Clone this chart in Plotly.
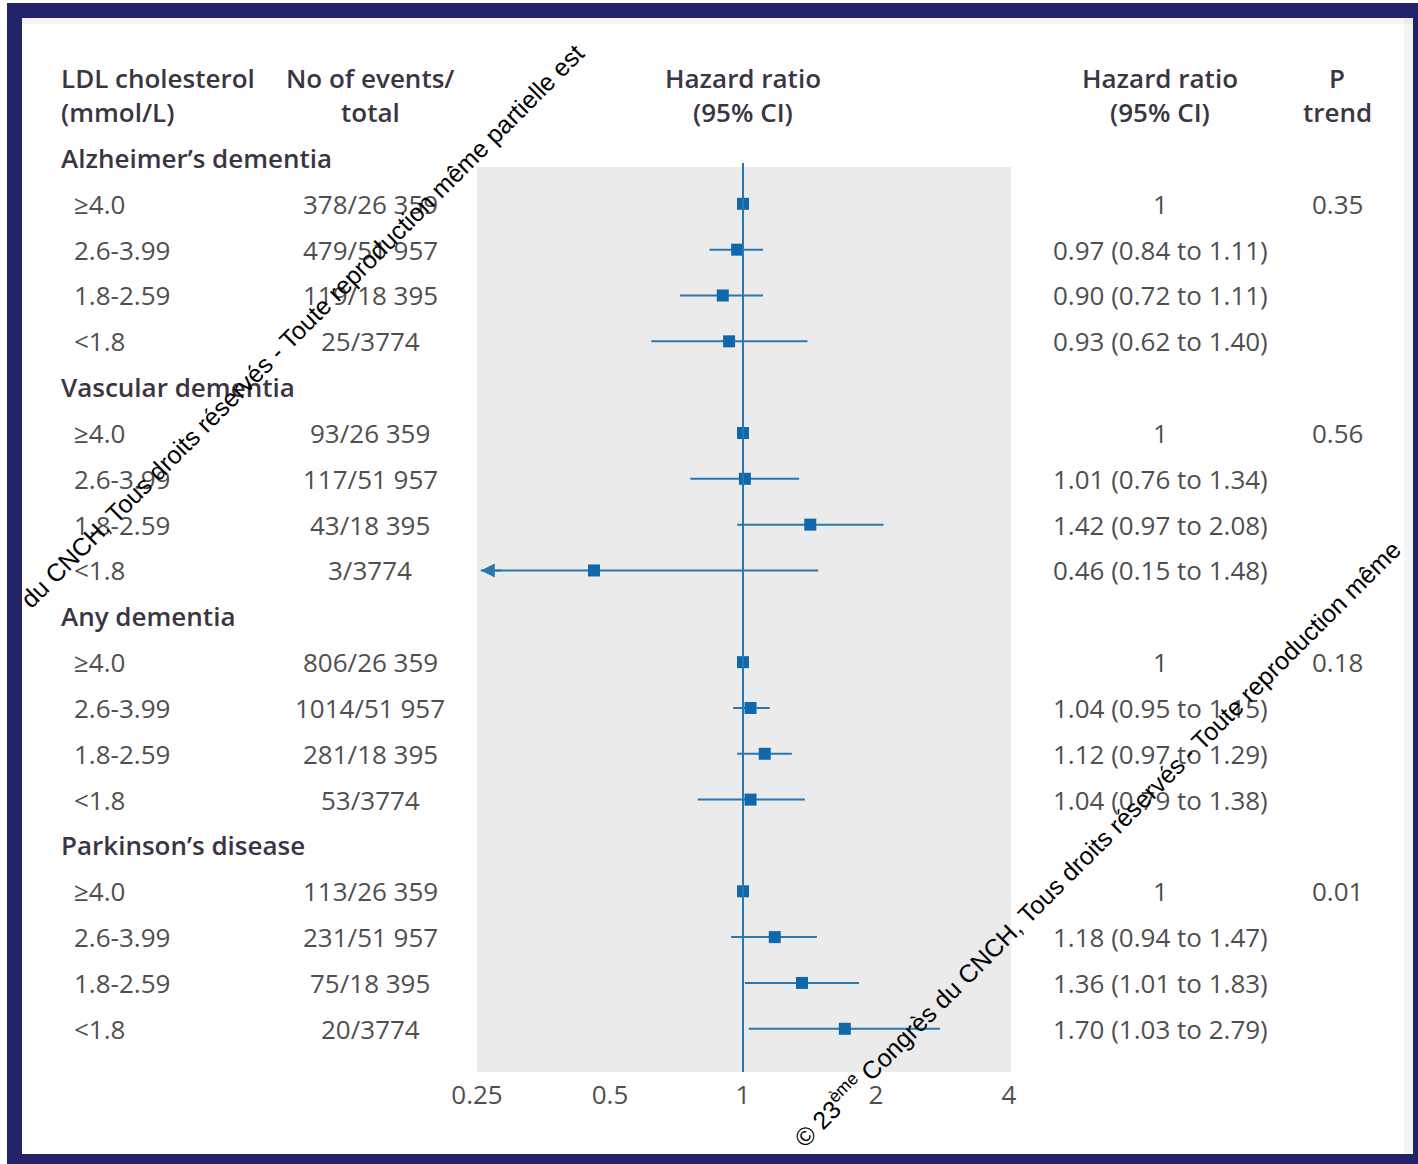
import math
import plotly.graph_objects as go

# ---------------- data ----------------
groups = ["Alzheimer’s dementia", "Vascular dementia", "Any dementia", "Parkinson’s disease"]
ldl_categories = ["≥4.0", "2.6-3.99", "1.8-2.59", "<1.8"]

events_alz = ["378/26 359", "479/51 957", "119/18 395", "25/3774"]
events_vasc = ["93/26 359", "117/51 957", "43/18 395", "3/3774"]
events_any = ["806/26 359", "1014/51 957", "281/18 395", "53/3774"]
events_park = ["113/26 359", "231/51 957", "75/18 395", "20/3774"]

hr_alz = [1.00, 0.97, 0.90, 0.93]
lo_alz = [None, 0.84, 0.72, 0.62]
hi_alz = [None, 1.11, 1.11, 1.40]

hr_vasc = [1.00, 1.01, 1.42, 0.46]
lo_vasc = [None, 0.76, 0.97, 0.15]
hi_vasc = [None, 1.34, 2.08, 1.48]

hr_any = [1.00, 1.04, 1.12, 1.04]
lo_any = [None, 0.95, 0.97, 0.79]
hi_any = [None, 1.15, 1.29, 1.38]

hr_park = [1.00, 1.18, 1.36, 1.70]
lo_park = [None, 0.94, 1.01, 1.03]
hi_park = [None, 1.47, 1.83, 2.79]

p_trend = ["0.35", "0.56", "0.18", "0.01"]

tick_vals = [0.25, 0.5, 1, 2, 4]
tick_text = ["0.25", "0.5", "1", "2", "4"]

events_all = [events_alz, events_vasc, events_any, events_park]
hr_all = [hr_alz, hr_vasc, hr_any, hr_park]
lo_all = [lo_alz, lo_vasc, lo_any, lo_park]
hi_all = [hi_alz, hi_vasc, hi_any, hi_park]

# ---------------- layout constants ----------------
W, H = 1418, 1164
PL, PR, PT, PB = 477, 1011, 167, 1072
ROW0, ROWH = 158.0, 45.83
AXIS_MIN = 0.25
PX_PER_LOG = 133.0 / math.log10(2)


def xp(px):
    return (px - PL) / (PR - PL)


def yp(py):
    return 1 - (py - PT) / (PB - PT)


def row_px(row):
    return ROW0 + row * ROWH


x_range = [math.log10(AXIS_MIN), math.log10(AXIS_MIN) + (PR - PL) / PX_PER_LOG]
y_range = [(PB - ROW0) / ROWH, (PT - ROW0) / ROWH]

BLUE = "#0f68ab"
LINE_BLUE = "#2a77b0"
HEAD = "#3b3543"
BODY = "#4f4f4f"
FONT = "Open Sans"
NAVY = "#23236a"

fig = go.Figure()
annotations = []

# ---------------- marks ----------------
mk_x, mk_y = [], []
ci_x, ci_y = [], []
arrow_rows = []
for g in range(4):
    for i in range(4):
        row = 5 * g + 1 + i
        mk_x.append(hr_all[g][i])
        mk_y.append(row)
        lo, hi = lo_all[g][i], hi_all[g][i]
        if lo is not None:
            lo_draw = lo
            if lo < AXIS_MIN:
                lo_draw = AXIS_MIN * 1.02
                arrow_rows.append((row, lo_draw))
            ci_x += [lo_draw, hi, None]
            ci_y += [row, row, None]

fig.add_trace(go.Scatter(x=ci_x, y=ci_y, mode="lines",
                         line=dict(color=LINE_BLUE, width=2), hoverinfo="skip",
                         showlegend=False, cliponaxis=False))
fig.add_trace(go.Scatter(x=mk_x, y=mk_y, mode="markers",
                         marker=dict(symbol="square", size=12, color=BLUE),
                         showlegend=False, cliponaxis=False))

for row, xa in arrow_rows:
    annotations.append(dict(x=math.log10(xa), y=row, xref="x", yref="y",
                            ax=22, ay=0, showarrow=True, arrowhead=2,
                            arrowsize=1.4, arrowwidth=2, arrowcolor=LINE_BLUE,
                            text=""))

# reference line at HR = 1
fig.add_shape(type="line", xref="x", yref="paper", x0=1, x1=1,
              y0=0, y1=yp(163), line=dict(color=LINE_BLUE, width=2), layer="above")


# ---------------- table text ----------------
def txt(s, px, py, anchor="left", size=26, color=BODY, weight=400):
    annotations.append(dict(text=s, x=xp(px), xref="paper", xanchor=anchor,
                            y=yp(py), yref="paper", yanchor="middle", showarrow=False,
                            font=dict(family=FONT, size=size, color=color, weight=weight)))


HDR = dict(size=26, color=HEAD, weight=600)
txt("LDL cholesterol", 59, 78, **HDR)
txt("(mmol/L)", 59, 112, **HDR)
txt("No of events/", 370, 78, anchor="center", **HDR)
txt("total", 370, 112, anchor="center", **HDR)
txt("Hazard ratio", 743, 78, anchor="center", **HDR)
txt("(95% CI)", 743, 112, anchor="center", **HDR)
txt("Hazard ratio", 1160, 78, anchor="center", **HDR)
txt("(95% CI)", 1160, 112, anchor="center", **HDR)
txt("P", 1337, 78, anchor="center", **HDR)
txt("trend", 1337, 112, anchor="center", **HDR)

for g in range(4):
    txt(groups[g], 59, row_px(5 * g), **HDR)
    for i in range(4):
        row = 5 * g + 1 + i
        txt(ldl_categories[i], 72, row_px(row))
        txt(events_all[g][i], 370, row_px(row), anchor="center")
        h, lo, hi = hr_all[g][i], lo_all[g][i], hi_all[g][i]
        s = "1" if lo is None else f"{h:.2f} ({lo:.2f} to {hi:.2f})"
        txt(s, 1160, row_px(row), anchor="center")
    txt(p_trend[g], 1337, row_px(5 * g + 1), anchor="center")

# ---------------- watermark ----------------
wm1 = "du CNCH, Tous droits réservés - Toute reproduction même partielle est"
wm2 = "© 23<sup>ème</sup> Congrès du CNCH, Tous droits réservés - Toute reproduction même"
for s, cx, cy in [(wm1, 302, 326), (wm2, 1096, 843)]:
    annotations.append(dict(text=s, x=xp(cx), y=yp(cy), xref="paper", yref="paper",
                            xanchor="center", yanchor="middle", showarrow=False,
                            textangle=-45,
                            font=dict(family="Liberation Sans, Arial", size=25, color="#000000")))


# ---------------- frame ----------------
def rect(x0, y0, x1, y1, color):
    fig.add_shape(type="rect", xref="paper", yref="paper",
                  x0=xp(x0), x1=xp(x1), y0=yp(y0), y1=yp(y1),
                  line=dict(width=0), fillcolor=color, layer="above")


rect(1404, 18, 1413, 1154, "rgba(0,0,0,0.04)")
rect(22, 18, 1413, 24, "rgba(0,0,0,0.04)")
rect(7, 3, 22, 1164, NAVY)
rect(7, 3, 1418, 18, NAVY)
rect(7, 1154, 1418, 1164, NAVY)
rect(1413, 3, 1418, 1164, NAVY)

fig.update_layout(
    width=W, height=H,
    margin=dict(l=PL, r=W - PR, t=PT, b=H - PB, pad=0),
    paper_bgcolor="white", plot_bgcolor="#ebebeb",
    showlegend=False,
    annotations=annotations,
    xaxis=dict(type="log", range=x_range, tickvals=tick_vals, ticktext=tick_text,
               showgrid=False, zeroline=False, showline=False, ticks="",
               ticklabelstandoff=5,
               tickfont=dict(family=FONT, size=26, color=BODY), fixedrange=True),
    yaxis=dict(range=y_range, showgrid=False, zeroline=False, showline=False,
               showticklabels=False, ticks="", fixedrange=True),
)

fig.write_html("out.html", config={"displayModeBar": False},
               post_script="document.body.style.margin='0';document.body.style.overflow='hidden';")
